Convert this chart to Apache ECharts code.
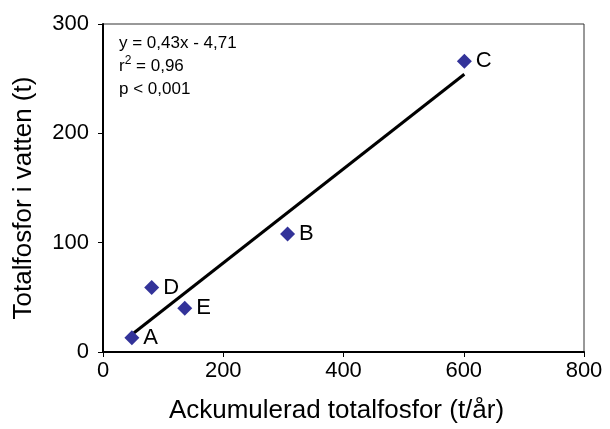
<!DOCTYPE html>
<html>
<head>
<meta charset="utf-8">
<script src="https://cdn.jsdelivr.net/npm/echarts@6/dist/echarts.min.js"></script>
<style>
  html, body { margin: 0; padding: 0; background: #fff; }
  #main { width: 610px; height: 429px; }
</style>
</head>
<body>
<div id="main"></div>
<script>
// sites and values
const siteNames = ['A', 'D', 'E', 'B', 'C'];
const loadValues = [48, 81, 136, 307, 601];   // Ackumulerad totalfosfor (t/år)
const waterValues = [13, 59, 40, 108, 266];   // Totalfosfor i vatten (t)
// regression line end points
const trendX = [48, 601];
const trendY = [16, 254];

const font = 'Liberation Sans, Arial, sans-serif';

let chart = echarts.init(document.getElementById('main'));

let points = siteNames.map((n, i) => ({ name: n, value: [loadValues[i], waterValues[i]] }));
let trend = trendX.map((x, i) => [x, trendY[i]]);

let option = {
  animation: false,
  grid: {
    left: 103, top: 24, right: 26, bottom: 75,
    show: true, borderColor: '#333', borderWidth: 1
  },
  xAxis: {
    type: 'value', min: 0, max: 800, interval: 200,
    name: 'Ackumulerad totalfosfor (t/år)',
    nameLocation: 'middle', nameGap: 46,
    nameTextStyle: { fontFamily: font, fontSize: 26, color: '#000', padding: [0, 14, 0, 0] },
    axisLine: { lineStyle: { color: '#000', width: 2 } },
    axisTick: { show: true, length: 5, lineStyle: { color: '#000' } },
    axisLabel: { fontFamily: font, fontSize: 22, color: '#000', margin: 8 },
    splitLine: { show: false }
  },
  yAxis: {
    type: 'value', min: 0, max: 300, interval: 100,
    name: 'Totalfosfor i vatten (t)',
    nameLocation: 'middle', nameGap: 66,
    nameTextStyle: { fontFamily: font, fontSize: 26, color: '#000', padding: [0, 20, 0, 0] },
    axisLine: { lineStyle: { color: '#000', width: 2 } },
    axisTick: { show: true, length: 5, lineStyle: { color: '#000' } },
    axisLabel: { fontFamily: font, fontSize: 22, color: '#000', margin: 14 },
    splitLine: { show: false }
  },
  series: [
    {
      type: 'line',
      data: trend,
      symbol: 'none',
      lineStyle: { color: '#000', width: 3 },
      z: 2
    },
    {
      type: 'scatter',
      data: points,
      symbol: 'diamond',
      symbolSize: 15,
      itemStyle: { color: '#333399', opacity: 1 },
      label: {
        show: true, position: 'right', distance: 4,
        formatter: '{b}',
        fontFamily: font, fontSize: 22, color: '#000'
      },
      z: 3
    }
  ],
  graphic: [
    {
      type: 'text', left: 119, top: 32,
      style: {
        text: 'y = 0,43x - 4,71\n{t|r}{s|2}{t| = 0,96}\np < 0,001',
        fontFamily: font, fontSize: 17, lineHeight: 23, fill: '#000',
        rich: {
          t: { fontFamily: font, fontSize: 17, lineHeight: 23 },
          s: { fontFamily: font, fontSize: 12, verticalAlign: 'top', lineHeight: 16 }
        }
      }
    }
  ]
};

chart.setOption(option);
</script>
</body>
</html>
